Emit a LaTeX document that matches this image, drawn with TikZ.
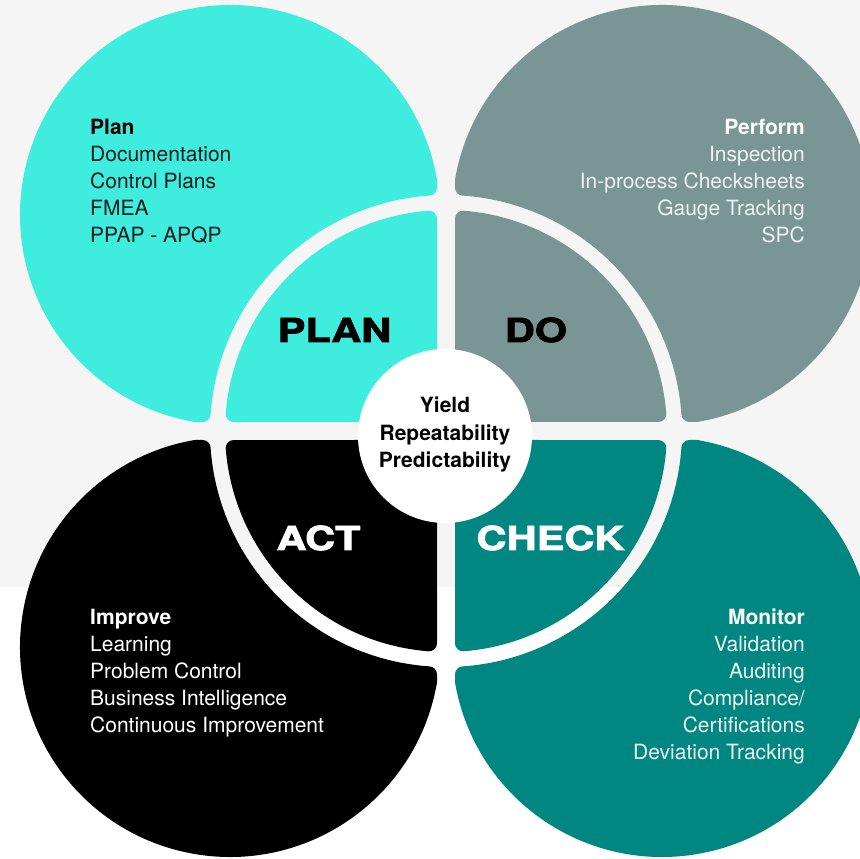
\documentclass[tikz,border=0pt]{standalone}
\usepackage{fontspec}
\setmainfont{TeX Gyre Heros}
\newfontfamily\widefont{TeX Gyre Heros}[FakeStretch=1.26,FakeBold=2.5]
\definecolor{plancol}{HTML}{3FEDDF}
\definecolor{docol}{HTML}{7A9694}
\definecolor{actcol}{HTML}{000000}
\definecolor{checkcol}{HTML}{008782}
\definecolor{bggray}{HTML}{F5F5F5}
\definecolor{darktext}{HTML}{0E1E1E}
\definecolor{lighttext}{HTML}{EEF4F3}
\tikzset{
    item/.style={inner sep=0pt, font=\fontsize{21}{25}\selectfont},
    head/.style={inner sep=0pt, font=\fontsize{21}{25}\selectfont\bfseries},
    phase/.style={inner sep=0pt, font=\fontsize{33}{36}\selectfont\widefont\bfseries},
    piece/.style={line width=16pt, line join=round},
}
\begin{document}
\begin{tikzpicture}[x=1pt, y=1pt]
    \useasboundingbox (0,0) rectangle (860,859);
    \begin{scope}
        \clip (0,0) rectangle (860,859);
        \fill[white] (0,0) rectangle (860,859);
        \fill[bggray] (0,272) rectangle (860,859);

        \foreach \sx/\sy/\col in {1/1/plancol, -1/1/docol, 1/-1/actcol, -1/-1/checkcol} {
            \begin{scope}[shift={(446,428)}, xscale=\sx, yscale=\sy]
                \path[piece, fill=\col, draw=\col]
                    (-17,17) -- (-17,212.32)
                    arc[start angle=94.58, end angle=175.42, radius=213] -- cycle;
                \path[piece, fill=\col, draw=\col]
                    (-17,243.41) -- (-17,250.68)
                    arc[start angle=9.886, end angle=260.114, radius=202] -- (-243.41,17)
                    arc[start angle=176.005, end angle=93.995, radius=244] -- cycle;
            \end{scope}
        }
    \end{scope}

    \node[circle, fill=white, minimum size=174pt, inner sep=0pt] (core) at (445,423) {};
    \node[head, anchor=base] (core-1) at (445,446) {Yield};
    \node[head, anchor=base] (core-2) at (445,418.5) {Repeatability};
    \node[head, anchor=base] (core-3) at (445,391) {Predictability};

    \node[phase, anchor=base] (plan) at (334.5,517) {PLAN};
    \node[phase, anchor=base] (do) at (536,517) {DO};
    \node[phase, anchor=base, text=white] (act) at (318.5,309) {ACT};
    \node[phase, anchor=base, text=white] (check) at (550.5,309) {CHECK};

    \node[head, anchor=base west] (plan-head) at (90,724) {Plan};
    \foreach \txt [count=\i] in {Documentation, Control Plans, FMEA, PPAP - APQP}
        \node[item, anchor=base west, text=darktext] (plan-\i) at (90,{724-27*\i}) {\txt};

    \node[head, anchor=base east, text=white] (do-head) at (805,724) {Perform};
    \foreach \txt [count=\i] in {Inspection, In-process Checksheets, Gauge Tracking, SPC}
        \node[item, anchor=base east, text=lighttext] (do-\i) at (805,{724-27*\i}) {\txt};

    \node[head, anchor=base west, text=white] (act-head) at (90,234) {Improve};
    \foreach \txt [count=\i] in {Learning, Problem Control, Business Intelligence, Continuous Improvement}
        \node[item, anchor=base west, text=white] (act-\i) at (90,{234-27*\i}) {\txt};

    \node[head, anchor=base east, text=white] (check-head) at (805,234) {Monitor};
    \foreach \txt [count=\i] in {Validation, Auditing, Compliance/, Certifications, Deviation Tracking}
        \node[item, anchor=base east, text=lighttext] (check-\i) at (805,{234-27*\i}) {\txt};
\end{tikzpicture}
\end{document}
